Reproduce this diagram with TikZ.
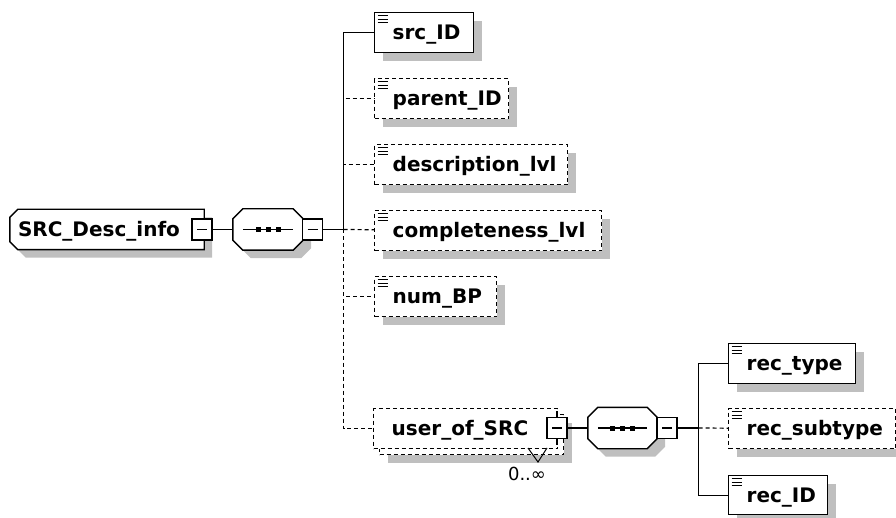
\documentclass[tikz,border=0pt]{standalone}
\usepackage{fontspec}
\newfontfamily\elemfont{DejaVu Sans}
\usetikzlibrary{shadows,backgrounds}

\begin{document}
\begin{tikzpicture}[
	x=1pt, y=-1pt,
	line join=miter,
	every node/.style={inner sep=0pt},
	link/.style={line width=1.2pt},
	opt/.style={dash pattern=on 4pt off 3pt},
	shade8/.style={drop shadow={shadow xshift=8pt, shadow yshift=-8pt, fill=black!25, opacity=1}},
	outline/.style={draw, line width=1.4pt, fill=white},
	box/.style={outline, anchor=north west,
		minimum height=40pt, text width=#1, align=left,
		font=\elemfont\bfseries\fontsize{20}{22}\selectfont,
		text height=14.5pt, text depth=0pt,
		execute at begin node={\hspace*{18pt}}},
	leaf/.style={path picture={
			\foreach \k in {3pt,6.5pt,10pt}
			\draw[line width=1.2pt, solid] ([shift={(3pt,-\k)}]path picture bounding box.north west) -- ++(10,0);}},
	rootbox/.style={minimum width=194pt, minimum height=40pt,
		font=\elemfont\bfseries\fontsize{20}{22}\selectfont,
		text height=14.5pt, text depth=0pt},
	seqbox/.style={minimum width=#1, minimum height=41pt},
	minusbox/.style={outline, minimum width=20pt, minimum height=21pt,
		path picture={\draw[line width=1.2pt] ([xshift=-5pt]path picture bounding box.center) -- ([xshift=5pt]path picture bounding box.center);}}
	]
	\useasboundingbox (0,0) rectangle (896,518);
	
	% root element
	\node[rootbox] (desc) at (107,229.5) {\makebox[178pt][l]{SRC\_Desc\_info}};
	\begin{scope}[on background layer]
		\draw[outline, shade8] ([xshift=8pt]desc.north west) -- (desc.north east) -- (desc.south east)
		-- ([xshift=8pt]desc.south west) -- ([yshift=8pt]desc.south west)
		-- ([yshift=-8pt]desc.north west) -- cycle;
	\end{scope}
	\node[minusbox] (desc-m) at (202,229.5) {};
	
	% first sequence
	\node[seqbox=70pt] (seq1) at (268,229.5) {};
	\begin{scope}[on background layer]
		\draw[outline, shade8] ([xshift=10pt]seq1.north west) -- ([xshift=-10pt]seq1.north east)
		-- ([yshift=-10pt]seq1.north east) -- ([yshift=10pt]seq1.south east)
		-- ([xshift=-10pt]seq1.south east) -- ([xshift=10pt]seq1.south west)
		-- ([yshift=10pt]seq1.south west) -- ([yshift=-10pt]seq1.north west) -- cycle;
	\end{scope}
	\draw[link] ([xshift=10pt]seq1.west) -- ([xshift=-10pt]seq1.east);
	\foreach \d in {-10pt,0pt,10pt}
	\fill ([xshift=\d]seq1.center) +(-2.5,-2.5) rectangle +(2.5,2.5);
	\node[minusbox] (seq1-m) at (312.5,229.5) {};
	\coordinate (j1) at (343.5,229.5);
	
	% children
	\node[box=99pt, leaf, shade8] (srcid) at (374,12) {src\_ID};
	\node[box=134pt, leaf, opt, shade8] (parentid) at (374,78) {parent\_ID};
	\node[box=193pt, leaf, opt, shade8] (desclvl) at (374,144) {description\_lvl};
	\node[box=227pt, leaf, opt, shade8] (complvl) at (374,210) {completeness\_lvl};
	\node[box=122pt, leaf, opt, shade8] (numbp) at (374,276) {num\_BP};
	
	% user_of_SRC, repeated
	\node[outline, opt, shade8, anchor=north west, minimum width=184pt, minimum height=40pt] (user-back) at (379,414) {};
	\node[box=184pt, opt] (user) at (373,408) {user\_of\_SRC};
	\node[minusbox] (user-m) at (557,428) {};
	\draw[link] (user-m.north) -- ++(0,-6);
	\draw[link] (user-m.south) -- ++(0,6);
	\draw[line width=1pt] (528,448) -- (538,462) -- (547,448);
	\node[font=\elemfont\fontsize{18}{20}\selectfont] (occ) at (527,474) {0..∞};
	
	% second sequence
	\node[seqbox=69pt] (seq2) at (622.5,428) {};
	\begin{scope}[on background layer]
		\draw[outline, shade8] ([xshift=10pt]seq2.north west) -- ([xshift=-10pt]seq2.north east)
		-- ([yshift=-10pt]seq2.north east) -- ([yshift=10pt]seq2.south east)
		-- ([xshift=-10pt]seq2.south east) -- ([xshift=10pt]seq2.south west)
		-- ([yshift=10pt]seq2.south west) -- ([yshift=-10pt]seq2.north west) -- cycle;
	\end{scope}
	\draw[link] ([xshift=10pt]seq2.west) -- ([xshift=-10pt]seq2.east);
	\foreach \d in {-10pt,0pt,10pt}
	\fill ([xshift=\d]seq2.center) +(-2.5,-2.5) rectangle +(2.5,2.5);
	\node[minusbox] (seq2-m) at (667,428) {};
	\coordinate (j2) at (698.5,428);
	
	\node[box=127pt, leaf, shade8] (rectype) at (728,343) {rec\_type};
	\node[box=167pt, leaf, opt, shade8] (recsub) at (728,408) {rec\_subtype};
	\node[box=99pt, leaf, shade8, minimum height=39pt] (recid) at (728,475) {rec\_ID};
	
	% connectors
	\draw[link] (desc-m) -- (seq1);
	\draw[link] (seq1-m) -- (j1);
	\draw[link, opt] (j1) |- (parentid);
	\draw[link, opt] (j1) |- (desclvl);
	\draw[link, opt] (j1) -- (complvl);
	\draw[link, opt] (j1) |- (numbp);
	\draw[link, opt] (j1) |- (user);
	\draw[link] (j1) |- (srcid);
	
	\draw[link] (user-m) -- (seq2);
	\draw[link] (seq2-m) -- (j2);
	\draw[link, opt] (j2) -- (recsub);
	\draw[link] (j2) |- (rectype);
	\draw[link] (j2) |- (recid);
	
\end{tikzpicture}
\end{document}
